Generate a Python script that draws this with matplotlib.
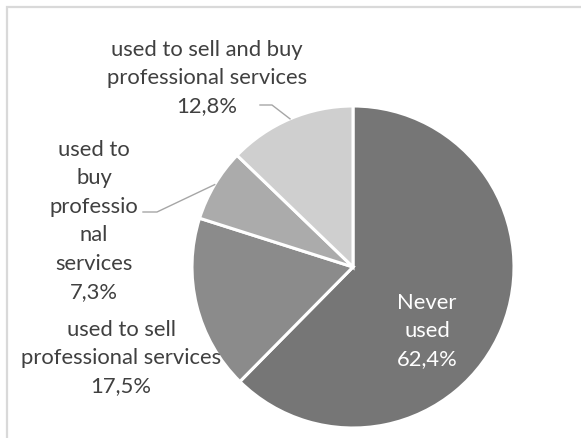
import matplotlib
matplotlib.use("Agg")
import matplotlib.pyplot as plt
import numpy as np

# share of respondents by how they used the platform
categories = ["Never\nused", "used to sell\nprofessional services",
              "used to\nbuy\nprofessio\nnal\nservices",
              "used to sell and buy\nprofessional services"]
shares = [62.4, 17.5, 7.3, 12.8]
colors = ["#767676", "#8b8b8b", "#ababab", "#cfcfcf"]

W, H = 581, 439
plt.rcParams["font.family"] = ["Lato", "DejaVu Sans"]

fig = plt.figure(figsize=(W / 100, H / 100), dpi=100)
ax = fig.add_axes([0, 0, 1, 1])

cx, cy, r = 353, H - 268, 161
wedges, _ = ax.pie(shares, startangle=90, counterclock=False, colors=colors,
                   center=(cx, cy), radius=r, frame=True,
                   wedgeprops=dict(edgecolor="white", linewidth=2.2))
ax.set_xlim(0, W)
ax.set_ylim(0, H)
ax.set_aspect("equal")
ax.axis("off")

# light chart-area border
ax.plot([7, 7, W + 5], [-5, H - 7.5, H - 7.5], color="#d9d9d9", lw=1.6,
        solid_joinstyle="miter")

def fmt(v):
    return f"{v:.1f}%".replace(".", ",")

label_pos = [(427, H - 331), (121, H - 358), (94, H - 221), (207, H - 78)]
text_col = ["white", "#404040", "#404040", "#404040"]
for (x, y), cat, v, c in zip(label_pos, categories, shares, text_col):
    ax.text(x, y, f"{cat}\n{fmt(v)}", ha="center", va="center", color=c,
            fontsize=15.8, linespacing=1.53)

# leader lines from the outside labels to their wedges
leaders = {3: [(260, 106), (272, 106)], 2: [(143, 213), (157, 213)]}
for i, pts in leaders.items():
    w = wedges[i]
    mid = np.deg2rad((w.theta1 + w.theta2) / 2)
    ex, ey = cx + r * np.cos(mid), cy + r * np.sin(mid)
    xs = [p[0] for p in pts] + [ex]
    ys = [H - p[1] for p in pts] + [ey]
    ax.plot(xs, ys, color="#a6a6a6", lw=1.0)

fig.savefig("out.png", dpi=100, facecolor="white")
